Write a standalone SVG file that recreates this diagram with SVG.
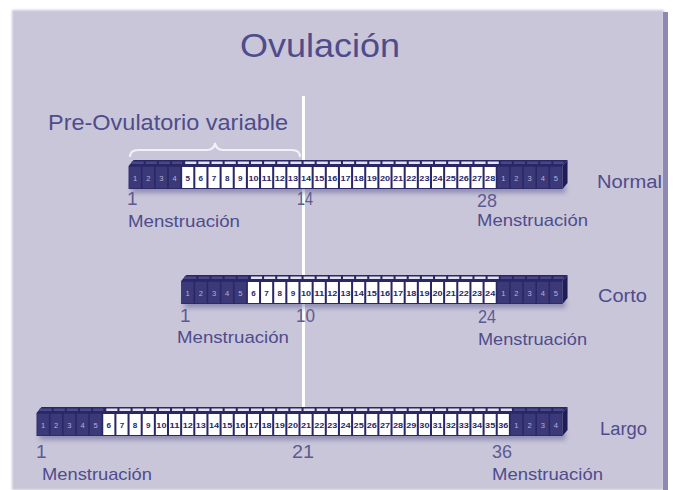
<svg xmlns="http://www.w3.org/2000/svg" width="673" height="490" viewBox="0 0 673 490">
<defs>
<filter id="blur" x="-10%" y="-100%" width="120%" height="300%"><feGaussianBlur stdDeviation="2.5"/></filter>
<filter id="soft" x="-5%" y="-5%" width="110%" height="110%"><feGaussianBlur stdDeviation="1"/></filter>
<style>
.lbl{font-family:"Liberation Sans",Arial,sans-serif;fill:#4f4c8b}
.num{font-family:"Liberation Sans",Arial,sans-serif;fill:#5d5a92;font-size:19px}
.dn{font-family:"Liberation Sans",Arial,sans-serif;font-size:7.5px;fill:#b4b1d8;text-anchor:middle}
.wn{font-family:"Liberation Sans",Arial,sans-serif;font-size:8px;font-weight:bold;fill:#2a2766;text-anchor:middle}
.face{fill:#2a2766}
.side{fill:#1f1c58}
.dcell{fill:#3c3979}
.wcell{fill:#ffffff}
.sep{stroke:#2a2766;stroke-width:2;fill:none}
.dsep{stroke:#2a2766;stroke-width:1.5;fill:none}
.wtop{fill:#e3e2ee}
.dtop{fill:#4a4788}
.shadow{fill:#4d4a86;opacity:.45}
</style>
</defs>
<rect x="0" y="0" width="673" height="490" fill="#ffffff"/>
<rect x="12" y="10" width="652" height="480" fill="#c9c6da" filter="url(#soft)"/>
<rect x="663" y="12" width="5" height="478" fill="#8d89b1"/>

<g id="connectors">
<line x1="303.5" y1="96" x2="303.5" y2="410" stroke="#ffffff" stroke-width="3"/>
<path d="M130,157 Q130,150 138,150 L207,150 Q214,150 215,143 Q216,150 223,150 L292,150 Q300,150 300,157" fill="none" stroke="#f2f1f8" stroke-width="2"/>
</g>

<g id="title"><text class="lbl" x="240" y="57" font-size="34" textLength="160" lengthAdjust="spacingAndGlyphs">Ovulación</text></g>
<g id="preovulatorio"><text class="lbl" x="48" y="130" font-size="22" textLength="240" lengthAdjust="spacingAndGlyphs">Pre-Ovulatorio variable</text></g>

<!-- NORMAL -->
<g id="bar-normal" transform="translate(128.55,166) scale(1.0115,1)">
<rect class="shadow" x="3" y="18" width="429" height="9" filter="url(#blur)"/>
<polygon class="face" points="0,0 5,-6 434,-6 429,0"/>
<polygon class="side" points="429,0 434,-6 434,17 429,23"/>
<rect class="face" x="0" y="0" width="429" height="23"/>
<rect class="dtop" x="3" y="-4.5" width="50" height="2.5"/>
<rect class="wtop" x="55" y="-4.5" width="312" height="2.5"/>
<rect class="dtop" x="367" y="-4.5" width="63" height="2.5"/>
<path class="sep" d="M16,-5V-1M29,-5V-1M42,-5V-1M55,-5V-1M68,-5V-1M81,-5V-1M94,-5V-1M107,-5V-1M120,-5V-1M133,-5V-1M146,-5V-1M159,-5V-1M172,-5V-1M185,-5V-1M198,-5V-1M211,-5V-1M224,-5V-1M237,-5V-1M250,-5V-1M263,-5V-1M276,-5V-1M289,-5V-1M302,-5V-1M315,-5V-1M328,-5V-1M341,-5V-1M354,-5V-1M367,-5V-1M380,-5V-1M393,-5V-1M406,-5V-1M419,-5V-1"/>
<rect class="dcell" x="0.75" y="0.75" width="50.5" height="21.5"/>
<rect class="wcell" x="53" y="1" width="310" height="21"/>
<rect class="dcell" x="364.75" y="0.75" width="63.5" height="21.5"/>
<path class="dsep" d="M13,0V23M26,0V23M39,0V23M377,0V23M390,0V23M403,0V23M416,0V23"/>
<path class="sep" d="M65,0V23M78,0V23M91,0V23M104,0V23M117,0V23M130,0V23M143,0V23M156,0V23M169,0V23M182,0V23M195,0V23M208,0V23M221,0V23M234,0V23M247,0V23M260,0V23M273,0V23M286,0V23M299,0V23M312,0V23M325,0V23M338,0V23M351,0V23"/>
<text class="dn" x="6.5" y="15">1</text><text class="dn" x="19.5" y="15">2</text><text class="dn" x="32.5" y="15">3</text><text class="dn" x="45.5" y="15">4</text>
<text class="wn" x="58.5" y="15">5</text><text class="wn" x="71.5" y="15">6</text><text class="wn" x="84.5" y="15">7</text><text class="wn" x="97.5" y="15">8</text><text class="wn" x="110.5" y="15">9</text>
<text class="wn" x="123.5" y="15" textLength="10" lengthAdjust="spacingAndGlyphs">10</text><text class="wn" x="136.5" y="15" textLength="10" lengthAdjust="spacingAndGlyphs">11</text><text class="wn" x="149.5" y="15" textLength="10" lengthAdjust="spacingAndGlyphs">12</text><text class="wn" x="162.5" y="15" textLength="10" lengthAdjust="spacingAndGlyphs">13</text><text class="wn" x="175.5" y="15" textLength="10" lengthAdjust="spacingAndGlyphs">14</text><text class="wn" x="188.5" y="15" textLength="10" lengthAdjust="spacingAndGlyphs">15</text><text class="wn" x="201.5" y="15" textLength="10" lengthAdjust="spacingAndGlyphs">16</text><text class="wn" x="214.5" y="15" textLength="10" lengthAdjust="spacingAndGlyphs">17</text><text class="wn" x="227.5" y="15" textLength="10" lengthAdjust="spacingAndGlyphs">18</text><text class="wn" x="240.5" y="15" textLength="10" lengthAdjust="spacingAndGlyphs">19</text><text class="wn" x="253.5" y="15" textLength="10" lengthAdjust="spacingAndGlyphs">20</text><text class="wn" x="266.5" y="15" textLength="10" lengthAdjust="spacingAndGlyphs">21</text><text class="wn" x="279.5" y="15" textLength="10" lengthAdjust="spacingAndGlyphs">22</text><text class="wn" x="292.5" y="15" textLength="10" lengthAdjust="spacingAndGlyphs">23</text><text class="wn" x="305.5" y="15" textLength="10" lengthAdjust="spacingAndGlyphs">24</text><text class="wn" x="318.5" y="15" textLength="10" lengthAdjust="spacingAndGlyphs">25</text><text class="wn" x="331.5" y="15" textLength="10" lengthAdjust="spacingAndGlyphs">26</text><text class="wn" x="344.5" y="15" textLength="10" lengthAdjust="spacingAndGlyphs">27</text><text class="wn" x="357.5" y="15" textLength="10" lengthAdjust="spacingAndGlyphs">28</text>
<text class="dn" x="370.5" y="15">1</text><text class="dn" x="383.5" y="15">2</text><text class="dn" x="396.5" y="15">3</text><text class="dn" x="409.5" y="15">4</text><text class="dn" x="422.5" y="15">5</text>
</g>
<g id="labels-normal">
<text class="lbl" x="597" y="188" font-size="18" textLength="65" lengthAdjust="spacingAndGlyphs">Normal</text>
<text class="num" x="127" y="205">1</text>
<text class="num" x="297" y="205" textLength="16" lengthAdjust="spacingAndGlyphs">14</text>
<text class="num" x="477" y="207" textLength="20" lengthAdjust="spacingAndGlyphs">28</text>
<text class="lbl" x="128" y="227" font-size="17" textLength="112" lengthAdjust="spacingAndGlyphs">Menstruación</text>
<text class="lbl" x="477" y="226" font-size="17" textLength="111" lengthAdjust="spacingAndGlyphs">Menstruación</text>
</g>

<!-- CORTO -->
<g id="bar-corto" transform="translate(181.15,281) scale(1.0115,1)">
<rect class="shadow" x="3" y="18" width="377" height="9" filter="url(#blur)"/>
<polygon class="face" points="0,0 5,-6 382,-6 377,0"/>
<polygon class="side" points="377,0 382,-6 382,17 377,23"/>
<rect class="face" x="0" y="0" width="377" height="23"/>
<rect class="dtop" x="3" y="-4.5" width="63" height="2.5"/>
<rect class="wtop" x="68" y="-4.5" width="247" height="2.5"/>
<rect class="dtop" x="315" y="-4.5" width="63" height="2.5"/>
<path class="sep" d="M16,-5V-1M29,-5V-1M42,-5V-1M55,-5V-1M68,-5V-1M81,-5V-1M94,-5V-1M107,-5V-1M120,-5V-1M133,-5V-1M146,-5V-1M159,-5V-1M172,-5V-1M185,-5V-1M198,-5V-1M211,-5V-1M224,-5V-1M237,-5V-1M250,-5V-1M263,-5V-1M276,-5V-1M289,-5V-1M302,-5V-1M315,-5V-1M328,-5V-1M341,-5V-1M354,-5V-1M367,-5V-1"/>
<rect class="dcell" x="0.75" y="0.75" width="63.5" height="21.5"/>
<rect class="wcell" x="66" y="1" width="245" height="21"/>
<rect class="dcell" x="312.75" y="0.75" width="63.5" height="21.5"/>
<path class="dsep" d="M13,0V23M26,0V23M39,0V23M52,0V23M325,0V23M338,0V23M351,0V23M364,0V23"/>
<path class="sep" d="M78,0V23M91,0V23M104,0V23M117,0V23M130,0V23M143,0V23M156,0V23M169,0V23M182,0V23M195,0V23M208,0V23M221,0V23M234,0V23M247,0V23M260,0V23M273,0V23M286,0V23M299,0V23"/>
<text class="dn" x="6.5" y="15">1</text><text class="dn" x="19.5" y="15">2</text><text class="dn" x="32.5" y="15">3</text><text class="dn" x="45.5" y="15">4</text><text class="dn" x="58.5" y="15">5</text>
<text class="wn" x="71.5" y="15">6</text><text class="wn" x="84.5" y="15">7</text><text class="wn" x="97.5" y="15">8</text><text class="wn" x="110.5" y="15">9</text>
<text class="wn" x="123.5" y="15" textLength="10" lengthAdjust="spacingAndGlyphs">10</text><text class="wn" x="136.5" y="15" textLength="10" lengthAdjust="spacingAndGlyphs">11</text><text class="wn" x="149.5" y="15" textLength="10" lengthAdjust="spacingAndGlyphs">12</text><text class="wn" x="162.5" y="15" textLength="10" lengthAdjust="spacingAndGlyphs">13</text><text class="wn" x="175.5" y="15" textLength="10" lengthAdjust="spacingAndGlyphs">14</text><text class="wn" x="188.5" y="15" textLength="10" lengthAdjust="spacingAndGlyphs">15</text><text class="wn" x="201.5" y="15" textLength="10" lengthAdjust="spacingAndGlyphs">16</text><text class="wn" x="214.5" y="15" textLength="10" lengthAdjust="spacingAndGlyphs">17</text><text class="wn" x="227.5" y="15" textLength="10" lengthAdjust="spacingAndGlyphs">18</text><text class="wn" x="240.5" y="15" textLength="10" lengthAdjust="spacingAndGlyphs">19</text><text class="wn" x="253.5" y="15" textLength="10" lengthAdjust="spacingAndGlyphs">20</text><text class="wn" x="266.5" y="15" textLength="10" lengthAdjust="spacingAndGlyphs">21</text><text class="wn" x="279.5" y="15" textLength="10" lengthAdjust="spacingAndGlyphs">22</text><text class="wn" x="292.5" y="15" textLength="10" lengthAdjust="spacingAndGlyphs">23</text><text class="wn" x="305.5" y="15" textLength="10" lengthAdjust="spacingAndGlyphs">24</text>
<text class="dn" x="318.5" y="15">1</text><text class="dn" x="331.5" y="15">2</text><text class="dn" x="344.5" y="15">3</text><text class="dn" x="357.5" y="15">4</text><text class="dn" x="370.5" y="15">5</text>
</g>
<g id="labels-corto">
<text class="lbl" x="598" y="302" font-size="18" textLength="49" lengthAdjust="spacingAndGlyphs">Corto</text>
<text class="num" x="180" y="322">1</text>
<text class="num" x="296" y="322" textLength="19" lengthAdjust="spacingAndGlyphs">10</text>
<text class="num" x="478" y="323" textLength="18" lengthAdjust="spacingAndGlyphs">24</text>
<text class="lbl" x="177" y="343" font-size="17" textLength="112" lengthAdjust="spacingAndGlyphs">Menstruación</text>
<text class="lbl" x="478" y="345" font-size="17" textLength="109" lengthAdjust="spacingAndGlyphs">Menstruación</text>
</g>

<!-- LARGO -->
<g id="bar-largo" transform="translate(36.5,413) scale(1.0115,1)">
<rect class="shadow" x="3" y="18" width="520" height="9" filter="url(#blur)"/>
<polygon class="face" points="0,0 5,-6 525,-6 520,0"/>
<polygon class="side" points="520,0 525,-6 525,17 520,23"/>
<rect class="face" x="0" y="0" width="520" height="23"/>
<rect class="dtop" x="3" y="-4.5" width="63" height="2.5"/>
<rect class="wtop" x="68" y="-4.5" width="403" height="2.5"/>
<rect class="dtop" x="471" y="-4.5" width="50" height="2.5"/>
<path class="sep" d="M16,-5V-1M29,-5V-1M42,-5V-1M55,-5V-1M68,-5V-1M81,-5V-1M94,-5V-1M107,-5V-1M120,-5V-1M133,-5V-1M146,-5V-1M159,-5V-1M172,-5V-1M185,-5V-1M198,-5V-1M211,-5V-1M224,-5V-1M237,-5V-1M250,-5V-1M263,-5V-1M276,-5V-1M289,-5V-1M302,-5V-1M315,-5V-1M328,-5V-1M341,-5V-1M354,-5V-1M367,-5V-1M380,-5V-1M393,-5V-1M406,-5V-1M419,-5V-1M432,-5V-1M445,-5V-1M458,-5V-1M471,-5V-1M484,-5V-1M497,-5V-1M510,-5V-1"/>
<rect class="dcell" x="0.75" y="0.75" width="63.5" height="21.5"/>
<rect class="wcell" x="66" y="1" width="401" height="21"/>
<rect class="dcell" x="468.75" y="0.75" width="50.5" height="21.5"/>
<path class="dsep" d="M13,0V23M26,0V23M39,0V23M52,0V23M481,0V23M494,0V23M507,0V23"/>
<path class="sep" d="M78,0V23M91,0V23M104,0V23M117,0V23M130,0V23M143,0V23M156,0V23M169,0V23M182,0V23M195,0V23M208,0V23M221,0V23M234,0V23M247,0V23M260,0V23M273,0V23M286,0V23M299,0V23M312,0V23M325,0V23M338,0V23M351,0V23M364,0V23M377,0V23M390,0V23M403,0V23M416,0V23M429,0V23M442,0V23M455,0V23"/>
<text class="dn" x="6.5" y="15">1</text><text class="dn" x="19.5" y="15">2</text><text class="dn" x="32.5" y="15">3</text><text class="dn" x="45.5" y="15">4</text><text class="dn" x="58.5" y="15">5</text>
<text class="wn" x="71.5" y="15">6</text><text class="wn" x="84.5" y="15">7</text><text class="wn" x="97.5" y="15">8</text><text class="wn" x="110.5" y="15">9</text>
<text class="wn" x="123.5" y="15" textLength="10" lengthAdjust="spacingAndGlyphs">10</text><text class="wn" x="136.5" y="15" textLength="10" lengthAdjust="spacingAndGlyphs">11</text><text class="wn" x="149.5" y="15" textLength="10" lengthAdjust="spacingAndGlyphs">12</text><text class="wn" x="162.5" y="15" textLength="10" lengthAdjust="spacingAndGlyphs">13</text><text class="wn" x="175.5" y="15" textLength="10" lengthAdjust="spacingAndGlyphs">14</text><text class="wn" x="188.5" y="15" textLength="10" lengthAdjust="spacingAndGlyphs">15</text><text class="wn" x="201.5" y="15" textLength="10" lengthAdjust="spacingAndGlyphs">16</text><text class="wn" x="214.5" y="15" textLength="10" lengthAdjust="spacingAndGlyphs">17</text><text class="wn" x="227.5" y="15" textLength="10" lengthAdjust="spacingAndGlyphs">18</text><text class="wn" x="240.5" y="15" textLength="10" lengthAdjust="spacingAndGlyphs">19</text><text class="wn" x="253.5" y="15" textLength="10" lengthAdjust="spacingAndGlyphs">20</text><text class="wn" x="266.5" y="15" textLength="10" lengthAdjust="spacingAndGlyphs">21</text><text class="wn" x="279.5" y="15" textLength="10" lengthAdjust="spacingAndGlyphs">22</text><text class="wn" x="292.5" y="15" textLength="10" lengthAdjust="spacingAndGlyphs">23</text><text class="wn" x="305.5" y="15" textLength="10" lengthAdjust="spacingAndGlyphs">24</text><text class="wn" x="318.5" y="15" textLength="10" lengthAdjust="spacingAndGlyphs">25</text><text class="wn" x="331.5" y="15" textLength="10" lengthAdjust="spacingAndGlyphs">26</text><text class="wn" x="344.5" y="15" textLength="10" lengthAdjust="spacingAndGlyphs">27</text><text class="wn" x="357.5" y="15" textLength="10" lengthAdjust="spacingAndGlyphs">28</text><text class="wn" x="370.5" y="15" textLength="10" lengthAdjust="spacingAndGlyphs">29</text><text class="wn" x="383.5" y="15" textLength="10" lengthAdjust="spacingAndGlyphs">30</text><text class="wn" x="396.5" y="15" textLength="10" lengthAdjust="spacingAndGlyphs">31</text><text class="wn" x="409.5" y="15" textLength="10" lengthAdjust="spacingAndGlyphs">32</text><text class="wn" x="422.5" y="15" textLength="10" lengthAdjust="spacingAndGlyphs">33</text><text class="wn" x="435.5" y="15" textLength="10" lengthAdjust="spacingAndGlyphs">34</text><text class="wn" x="448.5" y="15" textLength="10" lengthAdjust="spacingAndGlyphs">35</text><text class="wn" x="461.5" y="15" textLength="10" lengthAdjust="spacingAndGlyphs">36</text>
<text class="dn" x="474.5" y="15">1</text><text class="dn" x="487.5" y="15">2</text><text class="dn" x="500.5" y="15">3</text><text class="dn" x="513.5" y="15">4</text>
</g>
<g id="labels-largo">
<text class="lbl" x="600" y="435" font-size="18" textLength="47" lengthAdjust="spacingAndGlyphs">Largo</text>
<text class="num" x="36" y="458">1</text>
<text class="num" x="292" y="458" textLength="22" lengthAdjust="spacingAndGlyphs">21</text>
<text class="num" x="492" y="458" textLength="20" lengthAdjust="spacingAndGlyphs">36</text>
<text class="lbl" x="42" y="480" font-size="17" textLength="110" lengthAdjust="spacingAndGlyphs">Menstruación</text>
<text class="lbl" x="492" y="480" font-size="17" textLength="111" lengthAdjust="spacingAndGlyphs">Menstruación</text>
</g>
</svg>
